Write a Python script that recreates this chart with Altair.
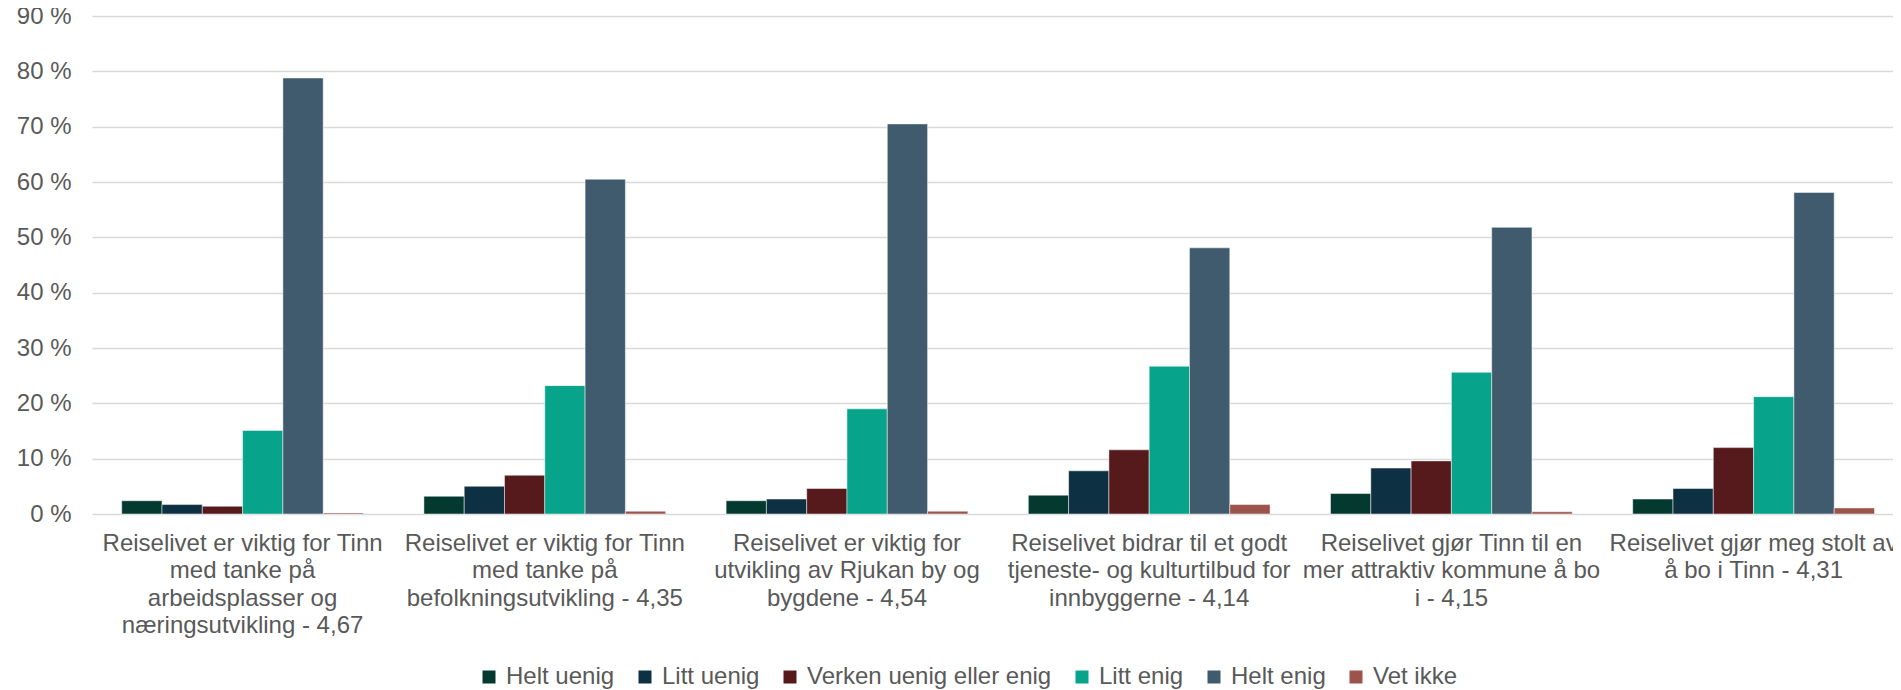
import altair as alt
import pandas as pd

categories = [
    "Reiselivet er viktig for Tinn med tanke på arbeidsplasser og næringsutvikling - 4,67",
    "Reiselivet er viktig for Tinn med tanke på befolkningsutvikling - 4,35",
    "Reiselivet er viktig for utvikling av Rjukan by og bygdene - 4,54",
    "Reiselivet bidrar til et godt tjeneste- og kulturtilbud for innbyggerne - 4,14",
    "Reiselivet gjør Tinn til en mer attraktiv kommune å bo i - 4,15",
    "Reiselivet gjør meg stolt av å bo i Tinn - 4,31",
]
label_lines = [
    ["Reiselivet er viktig for Tinn", "med tanke på", "arbeidsplasser og", "næringsutvikling - 4,67"],
    ["Reiselivet er viktig for Tinn", "med tanke på", "befolkningsutvikling - 4,35"],
    ["Reiselivet er viktig for", "utvikling av Rjukan by og", "bygdene - 4,54"],
    ["Reiselivet bidrar til et godt", "tjeneste- og kulturtilbud for", "innbyggerne - 4,14"],
    ["Reiselivet gjør Tinn til en", "mer attraktiv kommune å bo", "i - 4,15"],
    ["Reiselivet gjør meg stolt av", "å bo i Tinn - 4,31"],
]

responses = ["Helt uenig", "Litt uenig", "Verken uenig eller enig", "Litt enig", "Helt enig", "Vet ikke"]
colors = ["#03392f", "#0d3042", "#561a1d", "#07a38a", "#415b6e", "#9b534b"]

helt_uenig = [2.4, 3.2, 2.4, 3.4, 3.7, 2.7]
litt_uenig = [1.7, 5.0, 2.7, 7.8, 8.3, 4.6]
verken = [1.4, 7.0, 4.6, 11.6, 9.6, 12.0]
litt_enig = [15.1, 23.2, 19.0, 26.7, 25.6, 21.2]
helt_enig = [78.8, 60.5, 70.5, 48.1, 51.8, 58.1]
vet_ikke = [0.2, 0.5, 0.5, 1.7, 0.4, 1.1]

y_ticks = [0, 10, 20, 30, 40, 50, 60, 70, 80, 90]

series = [helt_uenig, litt_uenig, verken, litt_enig, helt_enig, vet_ikke]
rows = []
for resp, vals in zip(responses, series):
    for cat, v in zip(categories, vals):
        rows.append({"cat": cat, "resp": resp, "value": v})
df = pd.DataFrame(rows)


def js_str(s):
    return "'" + s.replace("'", "\\'") + "'"


expr = "''"
for cat, lines in reversed(list(zip(categories, label_lines))):
    arr = "[" + ",".join(js_str(l) for l in lines) + "]"
    expr = f"datum.value == {js_str(cat)} ? {arr} : ({expr})"

FONT = "Liberation Sans"
GREY = "#595959"

chart = alt.Chart(df).mark_bar(
    stroke="white", strokeWidth=0.8, strokeOpacity=0.6
).encode(
    x=alt.X(
        "cat:N",
        sort=categories,
        title=None,
        scale=alt.Scale(paddingInner=0.2, paddingOuter=0.0798, align=0.616),
        axis=alt.Axis(
            labelExpr=expr,
            labelAngle=0,
            labelFont=FONT,
            labelFontSize=24,
            labelColor=GREY,
            labelLineHeight=27.5,
            labelPadding=17,
            labelLimit=0,
            labelOverlap=False,
            labelBaseline="top",
            domain=False,
            ticks=False,
            grid=False,
        ),
    ),
    xOffset=alt.XOffset("resp:N", sort=responses, scale=alt.Scale(paddingInner=0, paddingOuter=0)),
    y=alt.Y(
        "value:Q",
        title=None,
        scale=alt.Scale(domain=[0, 90], nice=False),
        axis=alt.Axis(
            values=y_ticks,
            labelExpr="datum.value + ' %'",
            labelFont=FONT,
            labelFontSize=24,
            labelColor=GREY,
            labelPadding=21,
            domain=False,
            ticks=False,
            grid=True,
            gridColor="#d9d9d9",
            gridWidth=1.3,
        ),
    ),
    color=alt.Color(
        "resp:N",
        sort=responses,
        scale=alt.Scale(domain=responses, range=colors),
        legend=alt.Legend(
            title=None,
            orient="none",
            direction="horizontal",
            columns=6,
            legendX=385,
            legendY=649,
            symbolType="square",
            symbolSize=169,
            symbolStrokeWidth=0,
            symbolOpacity=1,
            labelFont=FONT,
            labelFontSize=24,
            labelColor=GREY,
            labelOffset=5,
            columnPadding=18,
            padding=0,
            labelLimit=0,
        ),
    ),
).properties(
    width=1801,
    height=498,
    autosize=alt.AutoSizeParams(type="none"),
    padding={"left": 84, "top": 8, "right": 0, "bottom": 176},
    background="white",
).configure_view(stroke=None)

chart.save("out.html", embed_options={"renderer": "svg", "actions": False})
